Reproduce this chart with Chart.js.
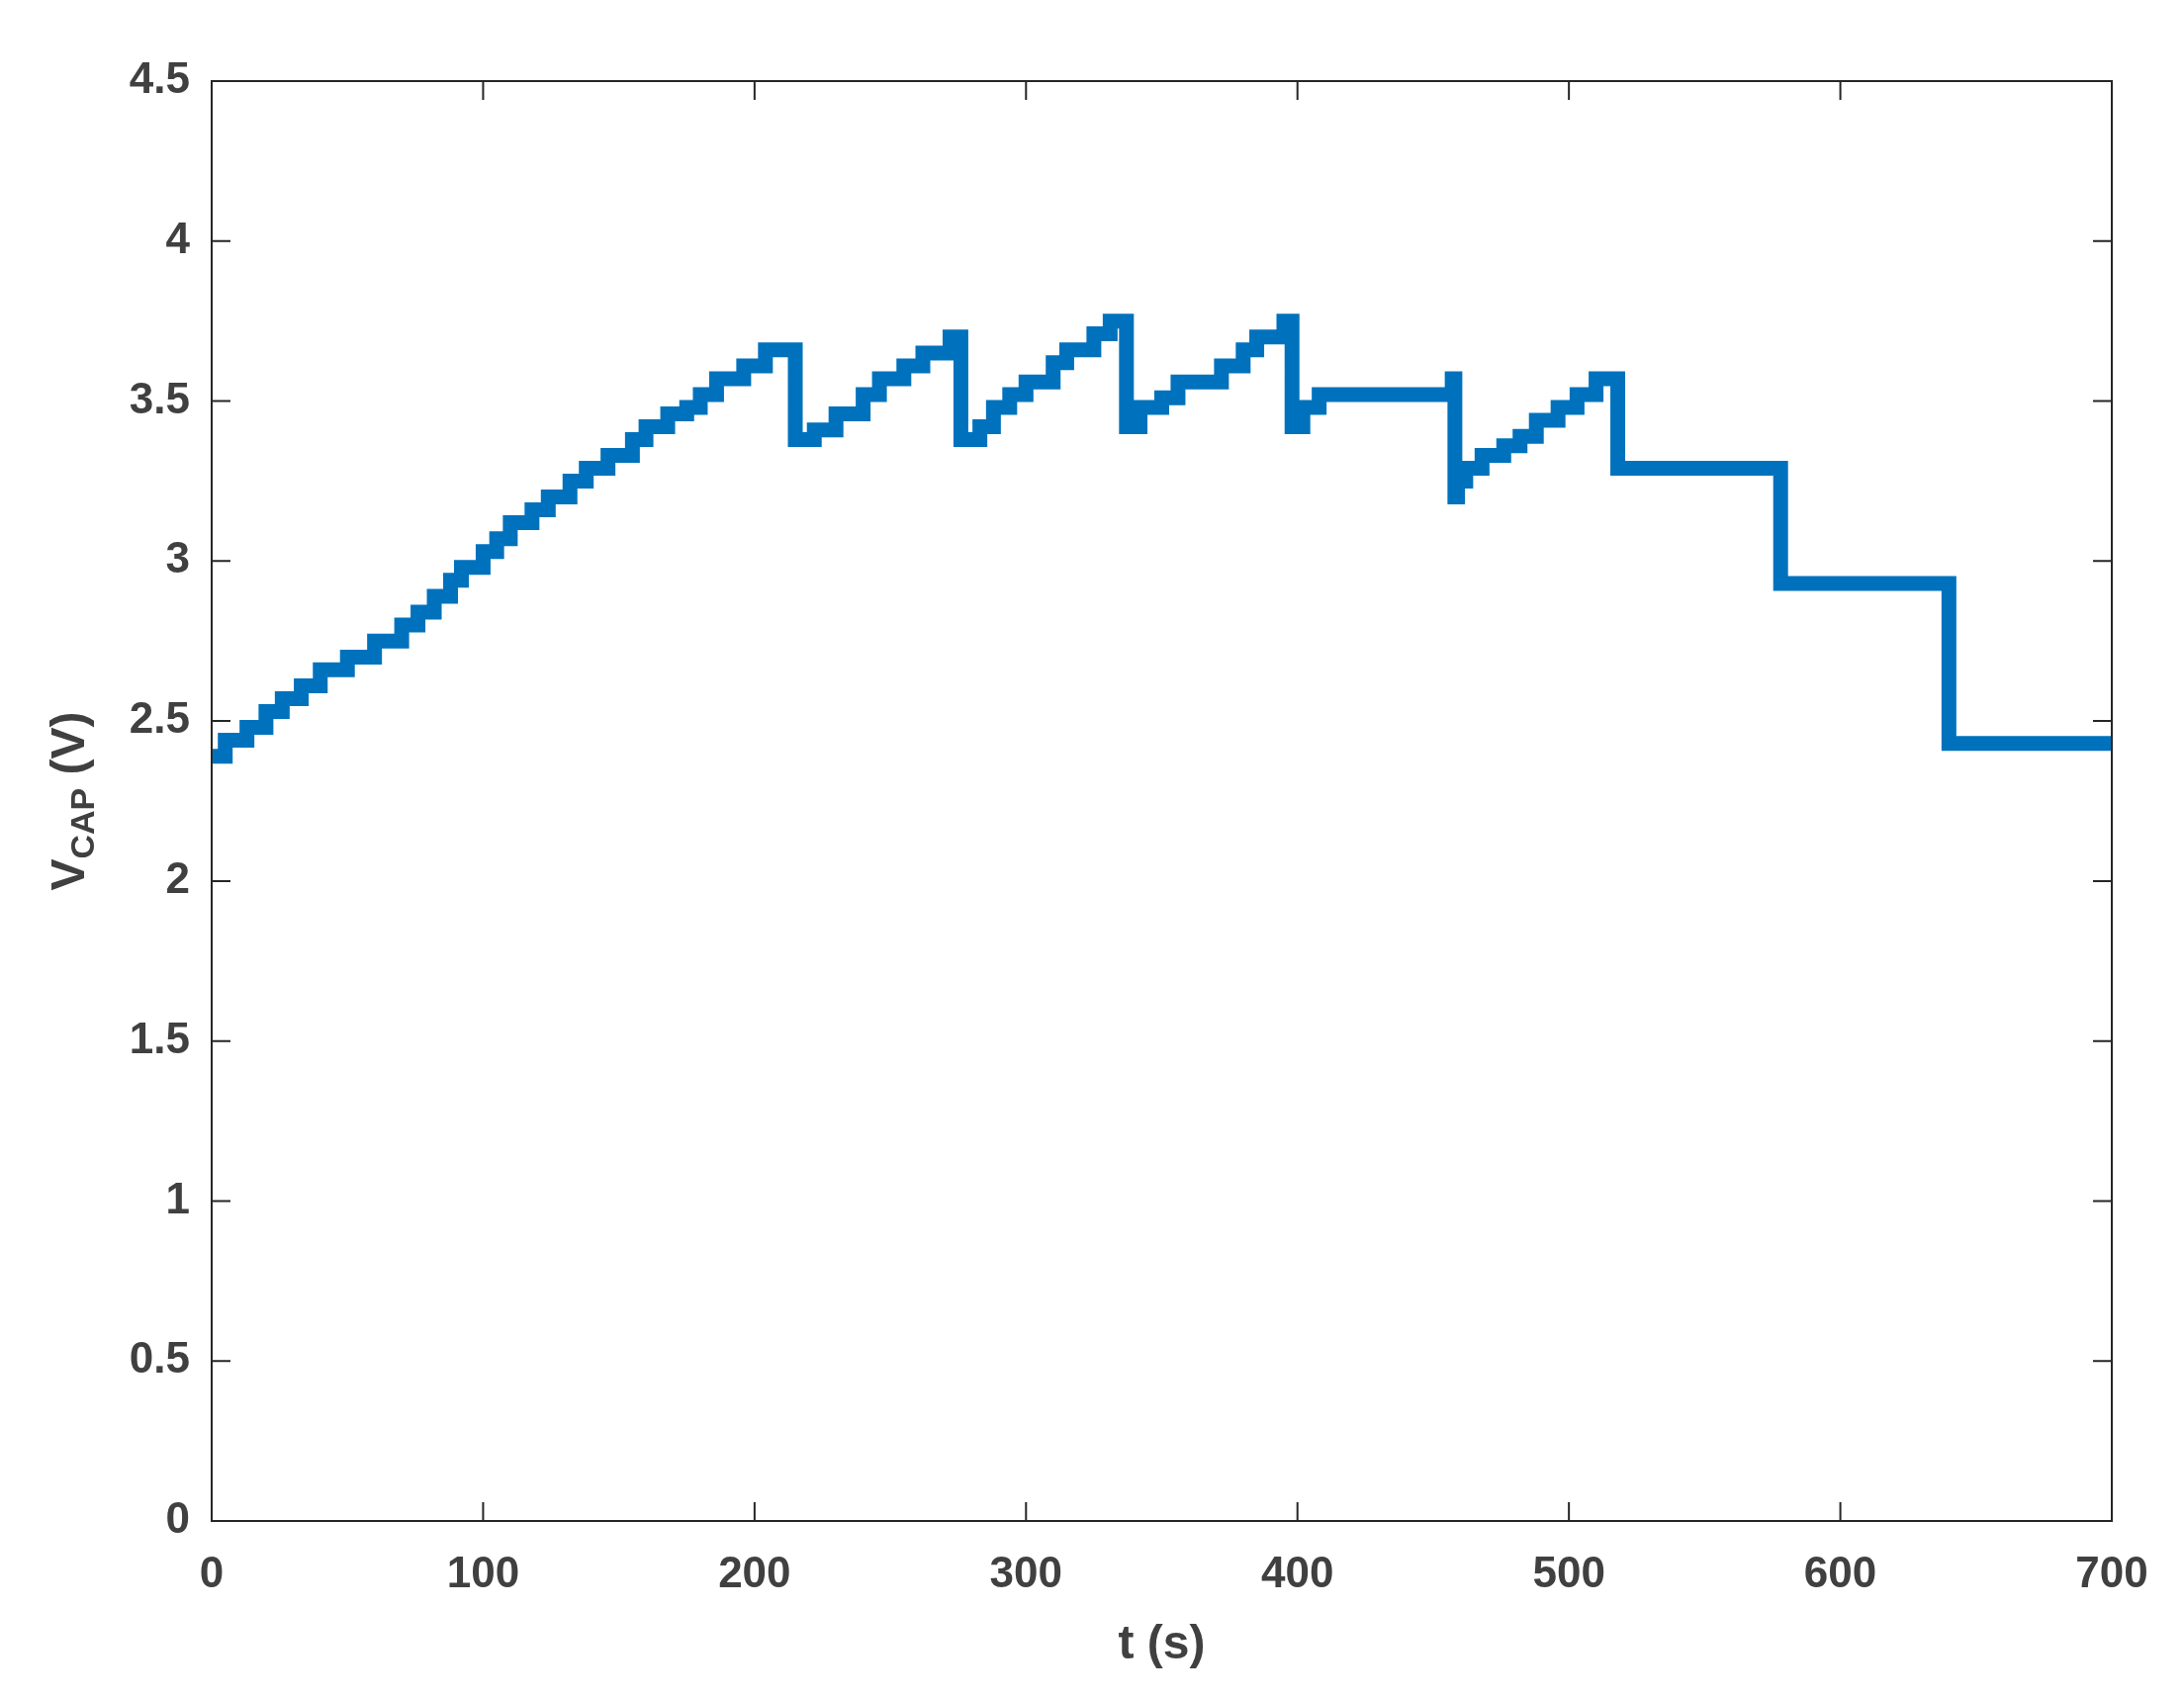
<!DOCTYPE html>
<html>
<head>
<script src="https://cdn.jsdelivr.net/npm/chart.js@4"></script>
<style>
  body { margin: 0; background: #fff; }
  #wrap { width: 2208px; height: 1717px; }
</style>
</head>
<body>
<div id="wrap"><canvas id="chart"></canvas></div>
<script>
// -> Daten (Stufen: Wert gilt ab Zeitpunkt)
const times = [0, 5, 13, 20, 26, 33, 40, 50, 60, 70, 76, 82, 88, 92, 100, 105, 110, 118, 124, 132, 138, 146, 155, 160, 168, 175, 180, 186, 196, 204,
  215, 222, 230, 240, 246, 255, 262, 272,
  276, 283, 288, 294, 300, 310, 315, 325, 331,
  337, 342, 350, 356, 372, 380, 385, 395,
  398, 402, 408, 457, 458,
  459, 462, 468, 476, 482, 488, 496, 503, 510,
  518, 578, 640, 700];
const vcap = [2.39, 2.44, 2.48, 2.53, 2.57, 2.61, 2.66, 2.70, 2.75, 2.80, 2.84, 2.89, 2.94, 2.98, 3.03, 3.07, 3.12, 3.16, 3.20, 3.25, 3.29, 3.33, 3.38, 3.42, 3.46, 3.48, 3.52, 3.57, 3.61, 3.66,
  3.38, 3.41, 3.46, 3.52, 3.57, 3.61, 3.65, 3.70,
  3.38, 3.42, 3.48, 3.52, 3.56, 3.62, 3.66, 3.71, 3.75,
  3.42, 3.48, 3.51, 3.56, 3.61, 3.66, 3.70, 3.75,
  3.42, 3.48, 3.52, 3.57, 3.20,
  3.25, 3.29, 3.33, 3.36, 3.39, 3.44, 3.48, 3.52, 3.57,
  3.29, 2.93, 2.43, 2.43];
const xTicks = [0, 100, 200, 300, 400, 500, 600, 700];
const yTicks = [0, 0.5, 1, 1.5, 2, 2.5, 3, 3.5, 4, 4.5];

const points = times.map((t, i) => ({ x: t, y: vcap[i] }));
const textColor = "#404040";
const tickFont = { family: "Liberation Sans", size: 44, weight: "bold" };

// -> Rahmen, innere Ticks und y-Titel mit Index
const framePlugin = {
  id: "frame",
  afterDraw(chart) {
    const ctx = chart.ctx;
    const a = chart.chartArea;
    const xs = chart.scales.x, ys = chart.scales.y;
    ctx.save();
    ctx.strokeStyle = "#262626";
    ctx.lineWidth = 2;
    ctx.strokeRect(a.left, a.top, a.right - a.left, a.bottom - a.top);
    ctx.beginPath();
    xTicks.forEach(v => {
      const px = xs.getPixelForValue(v);
      ctx.moveTo(px, a.bottom); ctx.lineTo(px, a.bottom - 19);
      ctx.moveTo(px, a.top); ctx.lineTo(px, a.top + 19);
    });
    yTicks.forEach(v => {
      const py = ys.getPixelForValue(v);
      ctx.moveTo(a.left, py); ctx.lineTo(a.left + 19, py);
      ctx.moveTo(a.right, py); ctx.lineTo(a.right - 19, py);
    });
    ctx.stroke();

    // y-Titel: V_CAP (V)
    ctx.fillStyle = textColor;
    ctx.translate(72, (a.top + a.bottom) / 2);
    ctx.rotate(-Math.PI / 2);
    ctx.textBaseline = "middle";
    const big = "bold 48px 'Liberation Sans'";
    const small = "bold 34px 'Liberation Sans'";
    ctx.font = big; const w1 = ctx.measureText("V").width;
    ctx.font = small; const w2 = ctx.measureText("CAP").width;
    ctx.font = big; const w3 = ctx.measureText(" (V)").width;
    let x0 = -(w1 + w2 + w3) / 2;
    ctx.font = big; ctx.fillText("V", x0, 0);
    ctx.font = small; ctx.fillText("CAP", x0 + w1, 14);
    ctx.font = big; ctx.fillText(" (V)", x0 + w1 + w2, 0);
    ctx.restore();
  }
};

const chart = new Chart(document.querySelector("#chart"), {
  type: "line",
  data: {
    datasets: [{
      data: points,
      stepped: "before",
      borderColor: "#0072BD",
      borderWidth: 15,
      pointRadius: 0,
      fill: false
    }]
  },
  options: {
    responsive: true,
    maintainAspectRatio: false,
    animation: false,
    layout: { padding: { top: 82, right: 73, left: 0, bottom: 20 } },
    plugins: { legend: { display: false }, tooltip: { enabled: false } },
    scales: {
      x: {
        type: "linear",
        min: 0, max: 700,
        afterBuildTicks: s => { s.ticks = xTicks.map(v => ({ value: v })); },
        afterFit: s => { s.height = 1717 - 1538 - 20; },
        grid: { display: false },
        border: { display: false },
        ticks: { color: textColor, font: tickFont, padding: 20, maxRotation: 0, callback: v => String(v) },
        title: { display: true, text: "t (s)", color: textColor, font: { family: "Liberation Sans", size: 48, weight: "bold" }, padding: { top: 8 } }
      },
      y: {
        min: 0, max: 4.5,
        afterBuildTicks: s => { s.ticks = yTicks.map(v => ({ value: v })); },
        afterFit: s => { s.width = 214; },
        grid: { display: false },
        border: { display: false },
        ticks: { color: textColor, font: tickFont, padding: 14, callback: v => String(v) }
      }
    }
  },
  plugins: [framePlugin]
});
</script>
</body>
</html>
